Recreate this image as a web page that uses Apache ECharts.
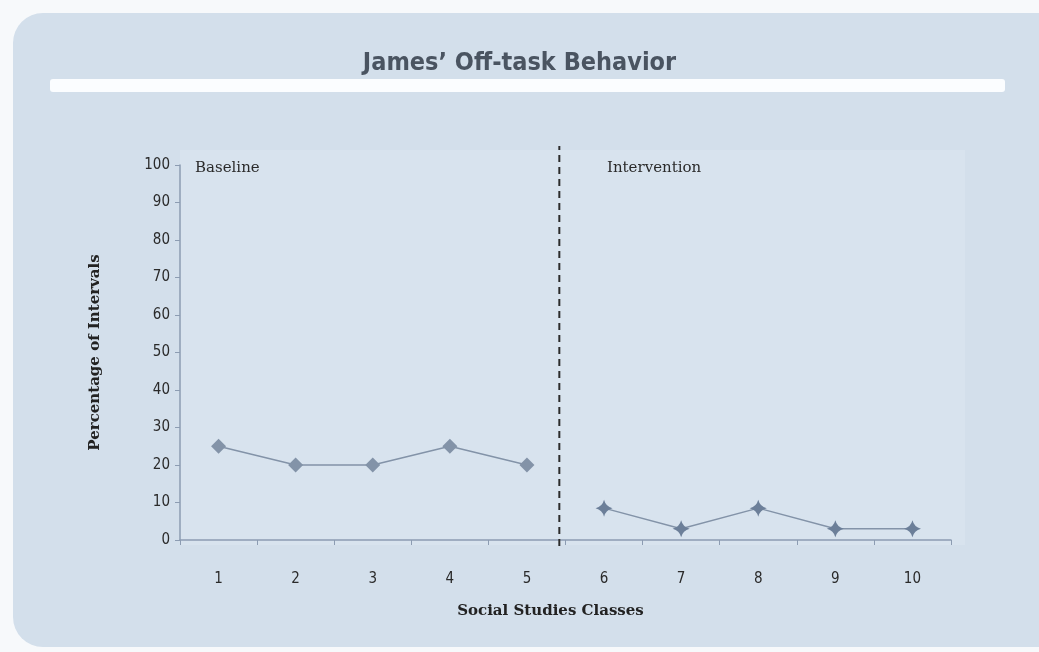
<!DOCTYPE html>
<html>
<head>
<meta charset="utf-8">
<script src="https://cdn.jsdelivr.net/npm/echarts@6/dist/echarts.min.js"></script>
<style>
  html, body { margin: 0; padding: 0; background: #f7f9fb; }
  #chart { width: 1039px; height: 652px; }
</style>
</head>
<body>
<div id="chart"></div>
<script>
const classes = ['1', '2', '3', '4', '5', '6', '7', '8', '9', '10'];
const baseline = [25, 20, 20, 25, 20, null, null, null, null, null];
const intervention = [null, null, null, null, null, 8.5, 3, 8.5, 3, 3];
const yTicks = [0, 10, 20, 30, 40, 50, 60, 70, 80, 90, 100];
const phaseChange = 5.42;

const chart = echarts.init(document.getElementById('chart'));

const slab = "'DejaVu Serif', 'Liberation Serif', serif";
const narrow = "'Liberation Sans Narrow', 'DejaVu Sans Condensed', 'Roboto', sans-serif";
const star = 'path://M0,-10 Q2,-2 10,0 Q2,2 0,10 Q-2,2 -10,0 Q-2,-2 0,-10z';

const option = {
  animation: false,
  backgroundColor: '#f7f9fb',
  graphic: [
    {
      type: 'rect', z: -10, silent: true,
      shape: { x: 13, y: 13, width: 1040, height: 634, r: [30, 0, 0, 30] },
      style: { fill: '#d3dfeb' }
    },
    {
      type: 'rect', z: -9, silent: true,
      shape: { x: 180, y: 150, width: 785, height: 395 },
      style: { fill: '#d8e3ee' }
    },
    {
      type: 'rect', z: -8, silent: true,
      shape: { x: 50, y: 79, width: 955, height: 13, r: 3 },
      style: { fill: '#fbfdff' }
    },
    {
      type: 'text', left: 195, top: 161,
      style: { text: 'Baseline', font: '15px ' + slab, fill: '#2b2b2b' }
    },
    {
      type: 'text', left: 607, top: 161,
      style: { text: 'Intervention', font: '15px ' + slab, fill: '#2b2b2b' }
    }
  ],
  title: {
    text: 'James\u2019 Off-task Behavior',
    left: 'center',
    top: 46,
    textStyle: { fontFamily: narrow, fontWeight: 'bold', fontSize: 25, color: '#4a5461' }
  },
  grid: [
    { left: 180, right: 88, top: 165, bottom: 112 },
    { left: 180, right: 88, top: 146, bottom: 106 }
  ],
  xAxis: [
    {
      type: 'category',
      gridIndex: 0,
      data: classes,
      boundaryGap: true,
      name: 'Social Studies Classes',
      nameLocation: 'middle',
      nameGap: 64,
      nameTextStyle: {
        fontFamily: slab, fontWeight: 'bold', fontSize: 15, color: '#222',
        padding: [0, 30, 0, 0]
      },
      axisLine: { lineStyle: { color: '#8c9cb2', width: 1.5 } },
      axisTick: { show: true, interval: 0, length: 5, lineStyle: { color: '#8c9cb2' } },
      axisLabel: { margin: 32, fontFamily: narrow, fontSize: 15, color: '#2a2a2a' },
      splitLine: { show: false }
    },
    {
      type: 'value', gridIndex: 1, min: 0.5, max: 10.5, show: false
    }
  ],
  yAxis: [
    {
      type: 'value',
      gridIndex: 0,
      min: 0,
      max: 100,
      interval: 10,
      name: 'Percentage of Intervals',
      nameLocation: 'middle',
      nameGap: 77,
      nameRotate: 90,
      nameTextStyle: { fontFamily: slab, fontWeight: 'bold', fontSize: 15, color: '#222' },
      axisLine: { show: true, lineStyle: { color: '#8c9cb2', width: 1.5 } },
      axisTick: { show: true, length: 5, lineStyle: { color: '#8c9cb2' } },
      axisLabel: {
        margin: 10, fontFamily: narrow, fontSize: 15, color: '#2a2a2a',
        formatter: (v) => yTicks.includes(v) ? String(v) : ''
      },
      splitLine: { show: false }
    },
    {
      type: 'value', gridIndex: 1, min: 0, max: 1, show: false
    }
  ],
  series: [
    {
      name: 'Baseline',
      type: 'line',
      data: baseline,
      symbol: 'diamond',
      symbolSize: 15,
      itemStyle: { color: '#8393a8' },
      lineStyle: { color: '#8393a8', width: 1.5 }
    },
    {
      name: 'Intervention',
      type: 'line',
      data: intervention,
      symbol: star,
      symbolSize: 17,
      itemStyle: { color: '#6c7f99' },
      lineStyle: { color: '#8393a8', width: 1.5 }
    },
    {
      name: 'Phase change',
      type: 'line',
      xAxisIndex: 1,
      yAxisIndex: 1,
      data: [[phaseChange, 0], [phaseChange, 1]],
      showSymbol: false,
      symbol: 'none',
      lineStyle: { color: '#2b2b2b', type: [7, 5], width: 2 }
    }
  ]
};

chart.setOption(option);
</script>
</body>
</html>
